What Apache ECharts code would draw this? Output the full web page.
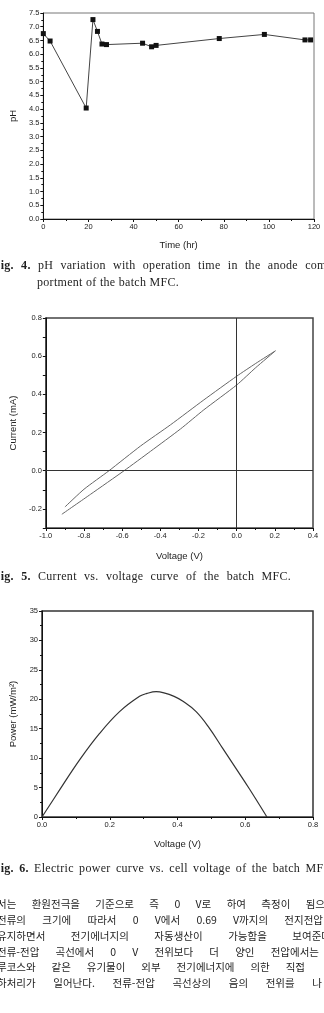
<!DOCTYPE html>
<html>
<head>
<meta charset="utf-8">
<script src="https://cdn.jsdelivr.net/npm/echarts@6/dist/echarts.min.js"></script>
<style>
  body { margin:0; width:324px; height:1013px; overflow:hidden; background:#fff; position:relative; }
  #main { position:absolute; left:0; top:0; width:324px; height:1013px; }
  .ln { position:absolute; height:15px; line-height:15px; color:#1e1e1e; text-align:justify; text-align-last:justify; white-space:normal; }
  .cap { font-family:"Liberation Serif", serif; font-size:12px; letter-spacing:0.3px; }
  .kr { font-family:"Noto Sans CJK KR", sans-serif; font-size:10.5px; }
</style>
</head>
<body>
<div id="main"></div>

<div class="ln cap" style="top:258px;left:-7px;width:338px"><b>Fig. 4.</b> pH variation with operation time in the anode com-</div>
<div class="ln cap" style="top:275px;left:37px;width:160px;text-align-last:left">portment of the batch MFC.</div>
<div class="ln cap" style="top:569px;left:-7px;width:298px"><b>Fig. 5.</b> Current vs. voltage curve of the batch MFC.</div>
<div class="ln cap" style="top:861px;left:-7px;width:342px"><b>Fig. 6.</b> Electric power curve vs. cell voltage of the batch MFC.</div>

<div class="ln kr" lang="ko" style="top:896px;left:-3px;width:328px">서는 환원전극을 기준으로 즉 0 V로 하여 측정이 됨으</div>
<div class="ln kr" lang="ko" style="top:912px;left:-3px;width:326px">전류의 크기에 따라서 0 V에서 0.69 V까지의 전지전압</div>
<div class="ln kr" lang="ko" style="top:928px;left:-3px;width:334px">유지하면서 전기에너지의 자동생산이 가능함을 보여준다</div>
<div class="ln kr" lang="ko" style="top:944px;left:-3px;width:322px">전류-전압 곡선에서 0 V 전위보다 더 양인 전압에서는</div>
<div class="ln kr" lang="ko" style="top:959px;left:-3px;width:308px">루코스와 같은 유기물이 외부 전기에너지에 의한 직접</div>
<div class="ln kr" lang="ko" style="top:975px;left:-3px;width:325px">하처리가 일어난다. 전류-전압 곡선상의 음의 전위를 나</div>

<script>
// Fig. 4 pH vs time
var phTime = [0, 3, 19, 22, 24, 26, 28, 44, 48, 50, 78, 98, 116, 118.5];
var phValue = [6.75, 6.48, 4.04, 7.26, 6.83, 6.37, 6.35, 6.40, 6.27, 6.32, 6.57, 6.72, 6.52, 6.52];

// Fig. 5 current-voltage loop (forward branch then back)
var ivVoltage = [-0.916, -0.765, -0.59, -0.451, -0.294, -0.172, 0, 0.1, 0.203, 0.1, 0, -0.172, -0.346, -0.503, -0.669, -0.8, -0.9];
var ivCurrent = [-0.228, -0.123, 0, 0.102, 0.219, 0.319, 0.449, 0.54, 0.628, 0.562, 0.495, 0.371, 0.241, 0.13, 0, -0.097, -0.19];

// Fig. 6 power vs voltage
var pwVoltage = [0, 0.052, 0.111, 0.17, 0.229, 0.288, 0.31, 0.337, 0.36, 0.39, 0.415, 0.455, 0.494, 0.533, 0.572, 0.612, 0.664];
var pwPower = [0, 4.6, 9.7, 14.2, 17.9, 20.5, 21.0, 21.3, 21.1, 20.5, 19.7, 17.9, 15.1, 11.7, 8.3, 4.8, 0];

function pairs(xs, ys) {
  return xs.map(function (x, i) { return [x, ys[i]]; });
}

var font = 'Liberation Sans';
var labelStyle = { fontFamily: font, fontSize: 7.5, color: '#222', margin: 4 };
function axisBase(extra) {
  var a = {
    type: 'value',
    axisLine: { show: true, onZero: false, lineStyle: { color: '#111', width: 1 } },
    axisTick: { show: true, inside: false, length: 3, lineStyle: { color: '#111' } },
    minorTick: { show: true, splitNumber: 2, length: 2, lineStyle: { color: '#111' } },
    splitLine: { show: false },
    axisLabel: Object.assign({}, labelStyle),
    nameLocation: 'middle',
    nameTextStyle: { fontFamily: font, fontSize: 9.5, color: '#222' }
  };
  return Object.assign(a, extra);
}

var myChart = echarts.init(document.getElementById('main'));

var option = {
  animation: false,
  grid: [
    { left: 41, top: 13, width: 273, height: 206, show: true, borderColor: '#777', borderWidth: 1 },
    { left: 45, top: 318, width: 268, height: 210, show: true, borderColor: '#444', borderWidth: 1.5 },
    { left: 42, top: 611, width: 271, height: 206, show: true, borderColor: '#333', borderWidth: 1.5 }
  ],
  xAxis: [
    axisBase({ gridIndex: 0, min: 0, max: 120, interval: 20, name: 'Time (hr)', nameGap: 21 }),
    axisBase({ gridIndex: 1, min: -1, max: 0.4, interval: 0.2, name: 'Voltage (V)', nameGap: 23,
      axisLabel: Object.assign({}, labelStyle, { formatter: function (v) { return v.toFixed(1); } }) }),
    axisBase({ gridIndex: 2, min: 0, max: 0.8, interval: 0.2, name: 'Voltage (V)', nameGap: 22,
      axisLabel: Object.assign({}, labelStyle, { formatter: function (v) { return v.toFixed(1); } }) })
  ],
  yAxis: [
    axisBase({ gridIndex: 0, min: 0, max: 7.5, interval: 0.5, name: 'pH', nameGap: 24,
      axisLabel: Object.assign({}, labelStyle, { formatter: function (v) { return v.toFixed(1); } }) }),
    axisBase({ gridIndex: 1, min: -0.3, max: 0.8, interval: 0.1, name: 'Current (mA)', nameGap: 24,
      minorTick: { show: false },
      axisLabel: Object.assign({}, labelStyle, { formatter: function (v) {
        return Math.round(v * 10) % 2 === 0 ? v.toFixed(1) : '';
      } }) }),
    axisBase({ gridIndex: 2, min: 0, max: 35, interval: 5, name: 'Power (mW/m²)', nameGap: 23 })
  ],
  series: [
    {
      type: 'line', xAxisIndex: 0, yAxisIndex: 0,
      data: pairs(phTime, phValue),
      symbol: 'rect', symbolSize: 5,
      itemStyle: { color: '#111' },
      lineStyle: { color: '#444', width: 1 }
    },
    {
      type: 'line', xAxisIndex: 1, yAxisIndex: 1,
      data: pairs(ivVoltage, ivCurrent),
      smooth: 0.2, showSymbol: false,
      lineStyle: { color: '#666', width: 1 },
      markLine: {
        silent: true, symbol: 'none', label: { show: false },
        lineStyle: { color: '#333', width: 1, type: 'solid' },
        data: [{ xAxis: 0 }, { yAxis: 0 }]
      }
    },
    {
      type: 'line', xAxisIndex: 2, yAxisIndex: 2,
      data: pairs(pwVoltage, pwPower),
      smooth: 0.4, showSymbol: false,
      lineStyle: { color: '#333', width: 1.2 }
    }
  ]
};

myChart.setOption(option);
</script>
</body>
</html>
